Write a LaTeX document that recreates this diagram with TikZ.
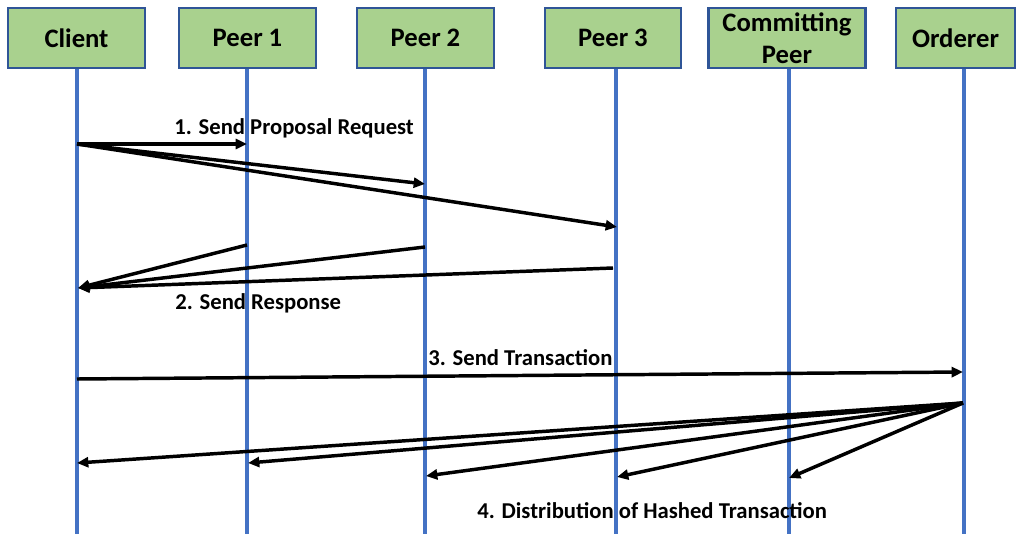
\documentclass[tikz,border=0pt]{standalone}
\usepackage{fontspec}
\setmainfont{Carlito}
\usetikzlibrary{arrows.meta}
\definecolor{boxfill}{HTML}{A9D18E}
\definecolor{boxline}{HTML}{2F5597}
\definecolor{lifecol}{HTML}{4472C4}
\begin{document}
\begin{tikzpicture}[x=0.75pt,y=-0.75pt,
  actor/.style={draw=boxline, line width=2pt, fill=boxfill, minimum height=45pt,
    inner sep=0pt, font=\fontsize{20}{24}\selectfont\bfseries, align=center},
  life/.style={draw=lifecol, line width=2.4pt},
  msg/.style={line width=2.6pt, -{Triangle[length=8.5pt,width=7.5pt]}},
  lbl/.style={font=\fontsize{17}{20}\selectfont\bfseries, inner sep=0pt, anchor=base west}]
\useasboundingbox (0,0) rectangle (1023,534);

% lifelines
\foreach \n/\x in {cl/77, pa/247, pb/425, pc/616, cp/789, od/964}{
  \coordinate (\n top) at (\x,68);
  \coordinate (\n bot) at (\x,540);
  \draw[life] (\n top) -- (\n bot);
}

% actor boxes
\node[actor, minimum width=102.75pt] (client) at (76.5,38) {Client};
\node[actor, minimum width=102.75pt] (peer1) at (247.5,38) {Peer 1};
\node[actor, minimum width=102.75pt] (peer2) at (425.5,38) {Peer 2};
\node[actor, minimum width=102pt] (peer3) at (613,38) {Peer 3};
\node[actor, minimum width=117.75pt] (cpeer) at (787,38) {Committing\\Peer};
\node[actor, minimum width=89.25pt] (orderer) at (955.5,38) {Orderer};

% message points
\coordinate (s1) at (77,144);
\coordinate (r1a) at (247,144);
\coordinate (r1b) at (425,184);
\coordinate (r1c) at (617,227);

\coordinate (s2a) at (247,245);
\coordinate (s2b) at (425,247);
\coordinate (s2c) at (613,268);
\coordinate (r2) at (78,288);

\coordinate (s3) at (77,379);
\coordinate (r3) at (963,372);

\coordinate (s4) at (963,403);
\coordinate (r4a) at (77,463);
\coordinate (r4b) at (248,463);
\coordinate (r4c) at (426,476);
\coordinate (r4d) at (617,477);
\coordinate (r4e) at (789,478);

% messages
\draw[msg] (s1) -- (r1a);
\draw[msg] (s1) -- (r1b);
\draw[msg] (s1) -- (r1c);

\draw[msg] (s2a) -- (r2);
\draw[msg] (s2b) -- (r2);
\draw[msg] (s2c) -- (r2);

\draw[msg] (s3) -- (r3);

\draw[msg] (s4) -- (r4a);
\draw[msg] (s4) -- (r4b);
\draw[msg] (s4) -- (r4c);
\draw[msg] (s4) -- (r4d);
\draw[msg] (s4) -- (r4e);

% labels
\node[lbl] (l1) at (174,135) {1. Send Proposal Request};
\node[lbl] (l2) at (175,310) {2. Send Response};
\node[lbl] (l3) at (428,365) {3. Send Transaction};
\node[lbl] (l4) at (477,518) {4. Distribution of Hashed Transaction};
\end{tikzpicture}
\end{document}
